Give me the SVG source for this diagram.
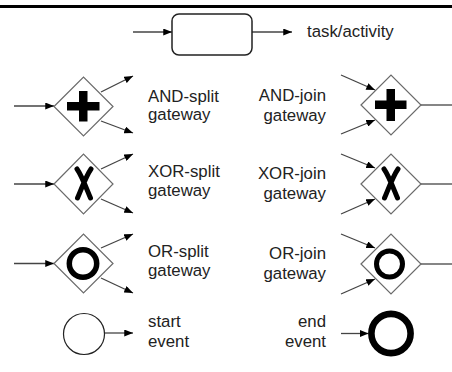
<svg xmlns="http://www.w3.org/2000/svg" width="452" height="372" viewBox="0 0 452 372">
  <style>
    .lbl { font-family: "Liberation Sans", Arial, sans-serif; font-size: 16.8px; fill: #222; }
    .r { text-anchor: end; }
    .conn { stroke: #444; stroke-width: 1.3; fill: none; marker-end: url(#arrow); }
    .plain { stroke: #444; stroke-width: 1.3; fill: none; }
    .gw { fill: #fff; stroke: #6a6a6a; stroke-width: 1.2; }
    .mark { fill: none; stroke: #000; }
  </style>
  <defs>
    <marker id="arrow" viewBox="0 0 10 8" refX="10" refY="4" markerWidth="9" markerHeight="7" markerUnits="userSpaceOnUse" orient="auto">
      <path d="M0,0 L10,4 L0,8 Z" fill="#000"/>
    </marker>
  </defs>

  <rect width="452" height="372" fill="#fff"/>
  <line x1="0" y1="6.5" x2="452" y2="6.5" stroke="#000" stroke-width="3"/>

  <g id="connectors">
    <!-- task -->
    <line class="conn" x1="133" y1="32" x2="172" y2="32"/>
    <line class="conn" x1="252" y1="32" x2="292" y2="32"/>
    <!-- AND split -->
    <line class="conn" x1="14" y1="106" x2="54" y2="106"/>
    <line class="conn" x1="101" y1="92" x2="133" y2="76"/>
    <line class="conn" x1="101" y1="121" x2="133" y2="133"/>
    <!-- AND join -->
    <line class="conn" x1="341" y1="75" x2="375" y2="90"/>
    <line class="conn" x1="341" y1="134" x2="375" y2="120"/>
    <line class="plain" x1="421" y1="105" x2="452" y2="105"/>
    <!-- XOR split -->
    <line class="conn" x1="14" y1="184" x2="54" y2="184"/>
    <line class="conn" x1="101" y1="169" x2="133" y2="154"/>
    <line class="conn" x1="101" y1="199" x2="133" y2="213"/>
    <!-- XOR join -->
    <line class="conn" x1="341" y1="154" x2="375" y2="168"/>
    <line class="conn" x1="341" y1="214" x2="375" y2="199"/>
    <line class="plain" x1="421" y1="184" x2="452" y2="184"/>
    <!-- OR split -->
    <line class="conn" x1="14" y1="263.5" x2="54" y2="263.5"/>
    <line class="conn" x1="101" y1="248" x2="133" y2="234"/>
    <line class="conn" x1="101" y1="278" x2="133" y2="293"/>
    <!-- OR join -->
    <line class="conn" x1="341" y1="234" x2="375" y2="248"/>
    <line class="conn" x1="341" y1="294" x2="375" y2="279"/>
    <line class="plain" x1="421" y1="264" x2="452" y2="264"/>
    <!-- events -->
    <line class="conn" x1="104.5" y1="333" x2="133" y2="333"/>
    <line class="conn" x1="341" y1="333.5" x2="368.5" y2="333.5"/>
  </g>

  <g id="task">
    <rect x="172" y="14" width="80" height="41" rx="7" ry="7" fill="#fff" stroke="#222" stroke-width="1.5"/>
    <text class="lbl" x="307" y="37">task/activity</text>
  </g>

  <g id="and-split">
    <polygon class="gw" points="54,106.5 83.5,77 113,106.5 83.5,136"/>
    <path d="M79,91 h8.5 v11 h12 v8.5 h-12 v11 h-8.5 v-11 h-12 v-8.5 h12 Z" fill="#000"/>
    <text class="lbl" x="148" y="101.5">AND-split</text>
    <text class="lbl" x="148" y="120">gateway</text>
  </g>

  <g id="and-join">
    <polygon class="gw" points="361,105 391,75 421,105 391,135"/>
    <path d="M386.5,89 h8.5 v11.5 h11.5 v8.5 h-11.5 v12 h-8.5 v-12 h-11.5 v-8.5 h11.5 Z" fill="#000"/>
    <text class="lbl r" x="326" y="101">AND-join</text>
    <text class="lbl r" x="326" y="120.5">gateway</text>
  </g>

  <g id="xor-split">
    <polygon class="gw" points="54,184 83.5,154 113,184 83.5,214"/>
    <path class="mark" d="M77,169 C82,176 87,190 90.5,198 M91,169 C86,176 81,190 77.5,198" stroke-width="5" stroke-linecap="round"/>
    <text class="lbl" x="148" y="177">XOR-split</text>
    <text class="lbl" x="148" y="196">gateway</text>
  </g>

  <g id="xor-join">
    <polygon class="gw" points="361,184 391,154 421,184 391,214"/>
    <path class="mark" d="M384,169 C389,176 394,190 397.5,198 M398,169 C393,176 388,190 384.5,198" stroke-width="5" stroke-linecap="round"/>
    <text class="lbl r" x="326" y="179">XOR-join</text>
    <text class="lbl r" x="326" y="198.5">gateway</text>
  </g>

  <g id="or-split">
    <polygon class="gw" points="54,263.5 83.5,234 113,263.5 83.5,293"/>
    <circle class="mark" cx="83" cy="263.5" r="13.7" stroke-width="5.5"/>
    <text class="lbl" x="148" y="257">OR-split</text>
    <text class="lbl" x="148" y="275.5">gateway</text>
  </g>

  <g id="or-join">
    <polygon class="gw" points="361,264 391,234 421,264 391,294"/>
    <circle class="mark" cx="389.5" cy="264" r="13" stroke-width="5"/>
    <text class="lbl r" x="326" y="259">OR-join</text>
    <text class="lbl r" x="326" y="279">gateway</text>
  </g>

  <g id="start-event">
    <circle cx="84" cy="334" r="20.5" fill="#fff" stroke="#222" stroke-width="1.2"/>
    <text class="lbl" x="148" y="326.5">start</text>
    <text class="lbl" x="148" y="346.5">event</text>
  </g>

  <g id="end-event">
    <circle cx="391" cy="333.5" r="19.6" fill="#fff" stroke="#000" stroke-width="6.6"/>
    <text class="lbl r" x="326" y="326.5">end</text>
    <text class="lbl r" x="326" y="346.5">event</text>
  </g>
</svg>
